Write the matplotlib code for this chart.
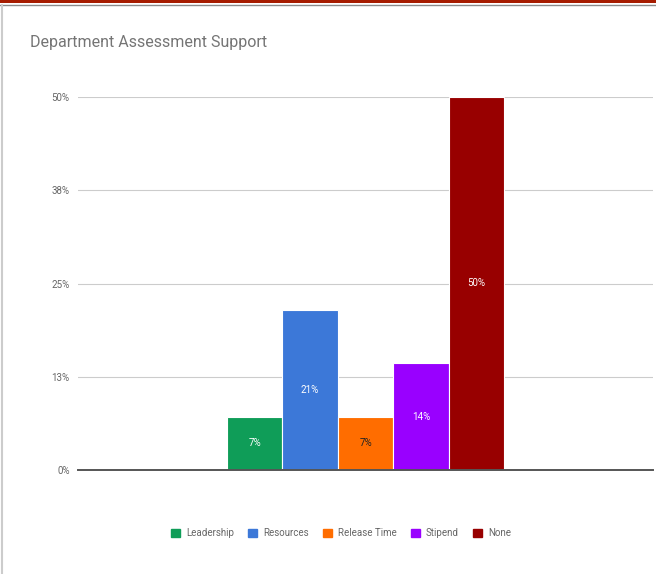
import numpy as np
import matplotlib
matplotlib.use("Agg")
import matplotlib.pyplot as plt
from matplotlib.patches import Rectangle, Patch
from matplotlib.lines import Line2D

plt.rcParams["font.family"] = ["Roboto", "DejaVu Sans"]

# Data
categories = ["Leadership", "Resources", "Release Time", "Stipend", "None"]
values = [7.14, 21.43, 7.14, 14.29, 50.0]
bar_labels = ["7%", "21%", "7%", "14%", "50%"]
colors = ["#0f9d58", "#3c78d8", "#ff6d00", "#9900ff", "#980000"]
label_colors = ["white", "white", "#222222", "white", "white"]
yticks = [0, 12.5, 25, 37.5, 50]
ytick_labels = ["0%", "13%", "25%", "38%", "50%"]

W, H = 656, 574
fig = plt.figure(figsize=(W / 100, H / 100), dpi=100)
fig.patch.set_facecolor("white")

ax = fig.add_axes([78 / W, 1 - 470 / H, 575 / W, 373 / H])
x = np.arange(len(categories))
bars = ax.bar(x, values, width=1.0, color=colors, edgecolor="white",
              linewidth=0.8, zorder=3)

for b, lab, c in zip(bars, bar_labels, label_colors):
    ax.text(b.get_x() + b.get_width() / 2, b.get_height() / 2, lab,
            ha="center", va="center", fontsize=7, color=c, zorder=4)

ax.set_xlim(2 - 5.19, 2 + 5.19)
ax.set_ylim(0, 50)
ax.set_yticks(yticks)
ax.set_yticklabels(ytick_labels)
ax.set_xticks([])
ax.tick_params(axis="y", length=0, pad=6, labelsize=7, labelcolor="#666666")
ax.grid(axis="y", color="#cccccc", linewidth=0.8, zorder=0)
for s in ["top", "right", "left"]:
    ax.spines[s].set_visible(False)
ax.spines["bottom"].set_color("#555555")
ax.spines["bottom"].set_linewidth(1.4)
ax.spines["bottom"].set_zorder(5)

fig.text(30 / W, 1 - 43 / H, "Department Assessment Support",
         fontsize=11.5, color="#757575", ha="left", va="center")

handles = [Patch(facecolor=c, edgecolor=c) for c in colors]
fig.legend(handles, categories, loc="center", ncol=5,
           bbox_to_anchor=(341 / W, 1 - 533 / H), frameon=False,
           fontsize=7, labelcolor="#666666", handlelength=0.9,
           handleheight=0.9, handletextpad=0.6, columnspacing=1.5)

# page decoration: red band on top, grey edges
fig.add_artist(Rectangle((0, 1 - 3 / H), 1, 3 / H, transform=fig.transFigure,
                         facecolor="#a61c00", edgecolor="none"))
fig.add_artist(Line2D([0, 1], [1 - 4.5 / H] * 2, transform=fig.transFigure,
                      color="#8a8a8a", linewidth=1))
fig.add_artist(Line2D([1.5 / W] * 2, [0, 1 - 4.5 / H], transform=fig.transFigure,
                      color="#cccccc", linewidth=1.5))

fig.savefig("out.png", dpi=100)
